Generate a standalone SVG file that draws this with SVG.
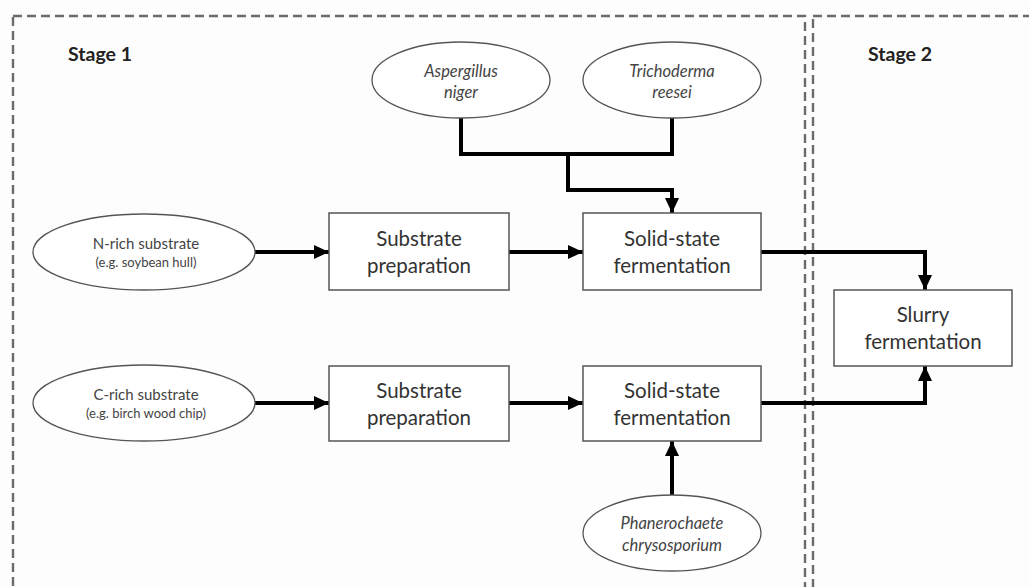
<svg xmlns="http://www.w3.org/2000/svg" width="1029" height="587" viewBox="0 0 1029 587">
<style>
.stage{fill:none;stroke:#6b6b6b;stroke-width:2.4;stroke-dasharray:9 5}
.lbl{font-family:Lato,"Open Sans",sans-serif;font-weight:bold;font-size:19.5px;fill:#222}
.ell{fill:#fff;stroke:#555;stroke-width:1.3}
.box{fill:#fff;stroke:#555;stroke-width:1.5}
.bt{font-family:Lato,"Open Sans",sans-serif;font-size:20.5px;fill:#333;text-anchor:middle}
.it{font-family:Lato,"Open Sans",sans-serif;font-style:italic;font-size:16.5px;fill:#444;text-anchor:middle}
.st{font-family:Lato,"Open Sans",sans-serif;font-size:15px;fill:#444;text-anchor:middle}
.st2{font-family:Lato,"Open Sans",sans-serif;font-size:13px;fill:#444;text-anchor:middle}
.con{fill:none;stroke:#000;stroke-width:4;stroke-linejoin:miter}
</style>
<defs>
<marker id="ah" markerUnits="userSpaceOnUse" markerWidth="16" markerHeight="14" refX="15" refY="7" orient="auto">
<path d="M0,0 L15,7 L0,14 z" fill="#000"/>
</marker>
</defs>
<rect width="1029" height="587" fill="#fdfdfd"/>
<g id="stage1">
<rect class="stage" x="13" y="16" width="792" height="620"/>
<text class="lbl" x="68" y="61">Stage 1</text>
</g>
<g id="stage2">
<rect class="stage" x="813" y="16" width="240" height="620"/>
<text class="lbl" x="868" y="61">Stage 2</text>
</g>
<g id="connectors">
<path class="con" d="M255,252 H329" marker-end="url(#ah)"/>
<path class="con" d="M509,252 H583" marker-end="url(#ah)"/>
<path class="con" d="M255,403 H329" marker-end="url(#ah)"/>
<path class="con" d="M509,403 H583" marker-end="url(#ah)"/>
<path class="con" d="M461,118 V154 H672 V118"/>
<path class="con" d="M568,154 V190 H672 V213" marker-end="url(#ah)"/>
<path class="con" d="M761,252 H925 V290" marker-end="url(#ah)"/>
<path class="con" d="M761,403 H925 V366" marker-end="url(#ah)"/>
<path class="con" d="M672,495 V441" marker-end="url(#ah)"/>
</g>
<g id="aspergillus">
<ellipse class="ell" cx="461" cy="80" rx="89" ry="38"/>
<text class="it" x="461" y="77">Aspergillus</text>
<text class="it" x="461" y="98">niger</text>
</g>
<g id="trichoderma">
<ellipse class="ell" cx="672" cy="80" rx="89" ry="38"/>
<text class="it" x="672" y="77">Trichoderma</text>
<text class="it" x="672" y="98">reesei</text>
</g>
<g id="nrich">
<ellipse class="ell" cx="144" cy="252" rx="111" ry="38"/>
<text class="st" x="146" y="249">N-rich substrate</text>
<text class="st2" x="146" y="267">(e.g. soybean hull)</text>
</g>
<g id="prep1">
<rect class="box" x="329" y="213" width="180" height="77"/>
<text class="bt" x="419" y="246">Substrate</text>
<text class="bt" x="419" y="273">preparation</text>
</g>
<g id="ssf1">
<rect class="box" x="583" y="213" width="178" height="77"/>
<text class="bt" x="672" y="246">Solid-state</text>
<text class="bt" x="672" y="273">fermentation</text>
</g>
<g id="slurry">
<rect class="box" x="834" y="290" width="178" height="76"/>
<text class="bt" x="923" y="322">Slurry</text>
<text class="bt" x="923" y="349">fermentation</text>
</g>
<g id="crich">
<ellipse class="ell" cx="144" cy="403" rx="111" ry="38"/>
<text class="st" x="146" y="400">C-rich substrate</text>
<text class="st2" x="146" y="418">(e.g. birch wood chip)</text>
</g>
<g id="prep2">
<rect class="box" x="329" y="366" width="180" height="75"/>
<text class="bt" x="419" y="398">Substrate</text>
<text class="bt" x="419" y="425">preparation</text>
</g>
<g id="ssf2">
<rect class="box" x="583" y="366" width="178" height="75"/>
<text class="bt" x="672" y="398">Solid-state</text>
<text class="bt" x="672" y="425">fermentation</text>
</g>
<g id="phanerochaete">
<ellipse class="ell" cx="672" cy="533" rx="89" ry="38"/>
<text class="it" x="672" y="529">Phanerochaete</text>
<text class="it" x="672" y="551">chrysosporium</text>
</g>
</svg>
